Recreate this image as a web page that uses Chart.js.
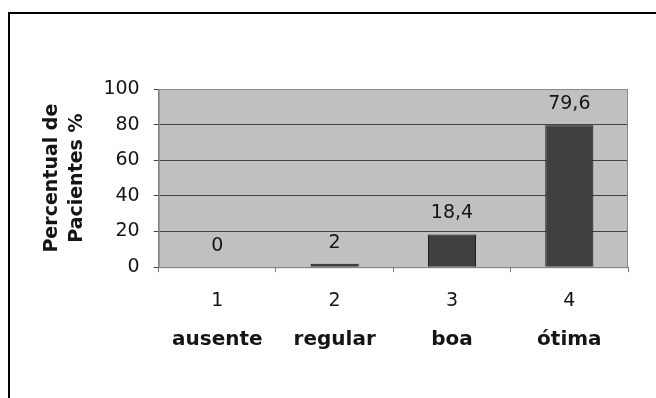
<!DOCTYPE html>
<html>
<head>
<meta charset="utf-8">
<script src="https://cdn.jsdelivr.net/npm/chart.js@4/dist/chart.umd.min.js"></script>
<style>
  html, body { margin: 0; padding: 0; background: #fff; }
  canvas { display: block; }
</style>
</head>
<body>
<canvas id="chart" width="656" height="398"></canvas>
<script>
// Avaliação dos pacientes (percentual por categoria)
const categories = ['1', '2', '3', '4'];
const qualityLabels = ['ausente', 'regular', 'boa', 'ótima'];
const percentValues = [0, 2, 18.4, 79.6];
const yTicks = [0, 20, 40, 60, 80, 100];

const FONT = '"DejaVu Sans", sans-serif';
const TEXT = '#151515';

// White page with the open black frame on top and left
const framePlugin = {
  id: 'frame',
  beforeDraw(chart) {
    const ctx = chart.ctx;
    ctx.save();
    ctx.fillStyle = '#fff';
    ctx.fillRect(0, 0, chart.width, chart.height);
    ctx.strokeStyle = '#000';
    ctx.lineWidth = 2;
    ctx.beginPath();
    ctx.moveTo(chart.width, 13);
    ctx.lineTo(9, 13);
    ctx.lineTo(9, chart.height);
    ctx.stroke();
    ctx.restore();
  }
};

// Grey plot area fill and its thin border
const plotAreaPlugin = {
  id: 'plotArea',
  beforeDraw(chart) {
    const { ctx, chartArea: a } = chart;
    ctx.save();
    ctx.fillStyle = '#c0c0c0';
    ctx.fillRect(a.left, a.top, a.right - a.left, a.bottom - a.top);
    ctx.restore();
  },
  afterDraw(chart) {
    const { ctx, chartArea: a } = chart;
    ctx.save();
    ctx.strokeStyle = '#8a8a8a';
    ctx.lineWidth = 1;
    ctx.strokeRect(a.left + 0.5, a.top + 0.5, a.right - a.left - 1, a.bottom - a.top);
    ctx.restore();
  }
};

// Value written above each bar, decimal comma
const valueLabelPlugin = {
  id: 'valueLabels',
  afterDatasetsDraw(chart) {
    const ctx = chart.ctx;
    const meta = chart.getDatasetMeta(0);
    ctx.save();
    ctx.font = '19px ' + FONT;
    ctx.fillStyle = TEXT;
    ctx.textAlign = 'center';
    ctx.textBaseline = 'alphabetic';
    meta.data.forEach((bar, i) => {
      const txt = String(chart.data.datasets[0].data[i]).replace('.', ',');
      ctx.fillText(txt, bar.x, bar.y - 16);
    });
    ctx.restore();
  }
};

new Chart(document.getElementById('chart'), {
  type: 'bar',
  data: {
    labels: categories,
    datasets: [{
      data: percentValues,
      backgroundColor: '#404040',
      borderColor: '#111',
      borderWidth: 1,
      barPercentage: 0.41,
      categoryPercentage: 1.0,
      xAxisID: 'x',
      yAxisID: 'y'
    }]
  },
  options: {
    responsive: false,
    animation: false,
    devicePixelRatio: 1,
    layout: { padding: { top: 89, right: 28, bottom: 47, left: 40 } },
    plugins: {
      legend: { display: false },
      tooltip: { enabled: false }
    },
    scales: {
      x: {
        type: 'category',
        position: 'bottom',
        grid: {
          offset: true,
          drawOnChartArea: false,
          drawTicks: true,
          tickLength: 5,
          color: '#777'
        },
        border: { display: true, color: '#777' },
        ticks: { color: TEXT, font: { family: FONT, size: 19 }, padding: 17 }
      },
      x2: {
        type: 'category',
        position: 'bottom',
        labels: qualityLabels,
        offset: true,
        grid: { display: false, drawTicks: false },
        border: { display: false },
        ticks: { color: TEXT, font: { family: FONT, size: 20, weight: 'bold' }, padding: -1 }
      },
      y: {
        min: 0,
        max: 100,
        afterBuildTicks(scale) { scale.ticks = yTicks.map(v => ({ value: v })); },
        grid: {
          color: '#444',
          drawTicks: true,
          tickLength: 5
        },
        border: { display: true, color: '#777' },
        ticks: { color: TEXT, font: { family: FONT, size: 19 }, padding: 14 },
        title: {
          display: true,
          text: ['Percentual de', 'Pacientes %'],
          color: TEXT,
          font: { family: FONT, size: 19, weight: 'bold', lineHeight: 1.3 },
          padding: { top: 0, bottom: 0 }
        }
      }
    }
  },
  plugins: [framePlugin, plotAreaPlugin, valueLabelPlugin]
});
</script>
</body>
</html>
